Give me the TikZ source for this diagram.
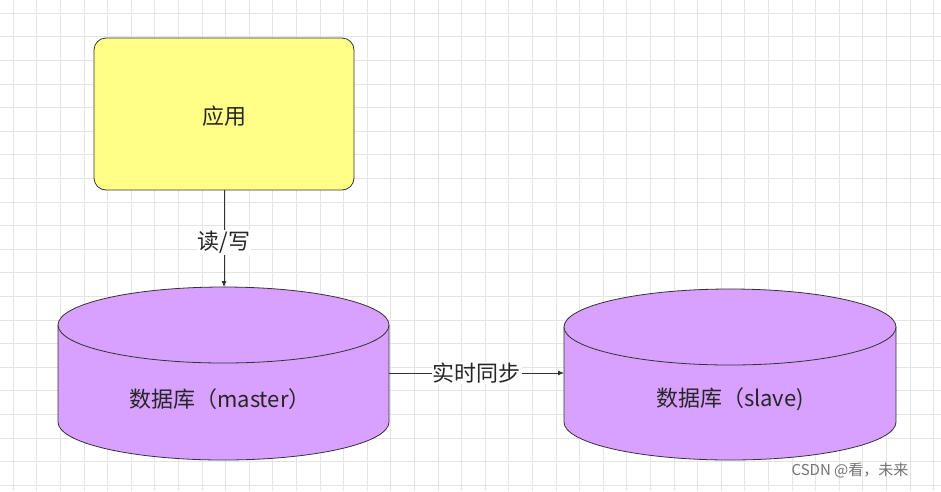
\documentclass[tikz,border=0pt]{standalone}
\usepackage{fontspec}
\usetikzlibrary{arrows.meta}
\setmainfont{Noto Sans CJK SC}
\definecolor{app}{HTML}{FFFF88}
\definecolor{db}{HTML}{D8A0FF}
\definecolor{gridc}{HTML}{E4E4E4}
\begin{document}
\begin{tikzpicture}[x=1pt,y=-1pt,
  lbl/.style={font=\fontsize{22}{26}\selectfont, text=black!85},
  edge/.style={draw=black!80, line width=0.8pt, -{Latex[length=6pt,width=5pt]}}]
\useasboundingbox (0,0) rectangle (941,491);
\fill[white] (0,0) rectangle (941,491);
\foreach \i in {0,...,40} {
  \draw[gridc, line width=0.6pt] ({13+23.6*\i},0) -- ({13+23.6*\i},491);
}
\foreach \j in {0,...,21} {
  \draw[gridc, line width=0.6pt] (0,{13+23.6*\j}) -- (941,{13+23.6*\j});
}
% app box
\draw[fill=app, draw=black!80, line width=0.8pt, rounded corners=12pt] (94,38) rectangle (354,190);
\node[lbl] (app) at (224,116) {应用};
\coordinate (appb) at (224,190);
% cylinder 1
\draw[fill=db, draw=black!80, line width=0.8pt] (58,325) -- (58,422) arc[start angle=180,end angle=360,x radius=165.5,y radius=-38] -- (389,325);
\draw[fill=db, draw=black!80, line width=0.8pt] (223.5,325) ellipse[x radius=165.5,y radius=38];
\node[lbl] (m) at (220,399) {数据库（master）};
\coordinate (mtop) at (224,287);
\coordinate (mr) at (389,373);
% cylinder 2
\draw[fill=db, draw=black!80, line width=0.8pt] (564,327) -- (564,422) arc[start angle=180,end angle=360,x radius=166,y radius=-38] -- (896,327);
\draw[fill=db, draw=black!80, line width=0.8pt] (730,327) ellipse[x radius=166,y radius=38];
\node[lbl] (s) at (730,399) {数据库（slave)};
\coordinate (sl) at (564,373);
% arrows
\draw[edge] (appb) -- node[fill=white, lbl, inner sep=1pt, yshift=-4pt] {读/写} (mtop);
\draw[edge] (mr) -- node[fill=white, lbl, inner sep=1pt] {实时同步} (sl);
\node[font=\fontsize{15}{17}\selectfont, text=black!55] (wm) at (850,470) {CSDN @看，未来};
\end{tikzpicture}
\end{document}
